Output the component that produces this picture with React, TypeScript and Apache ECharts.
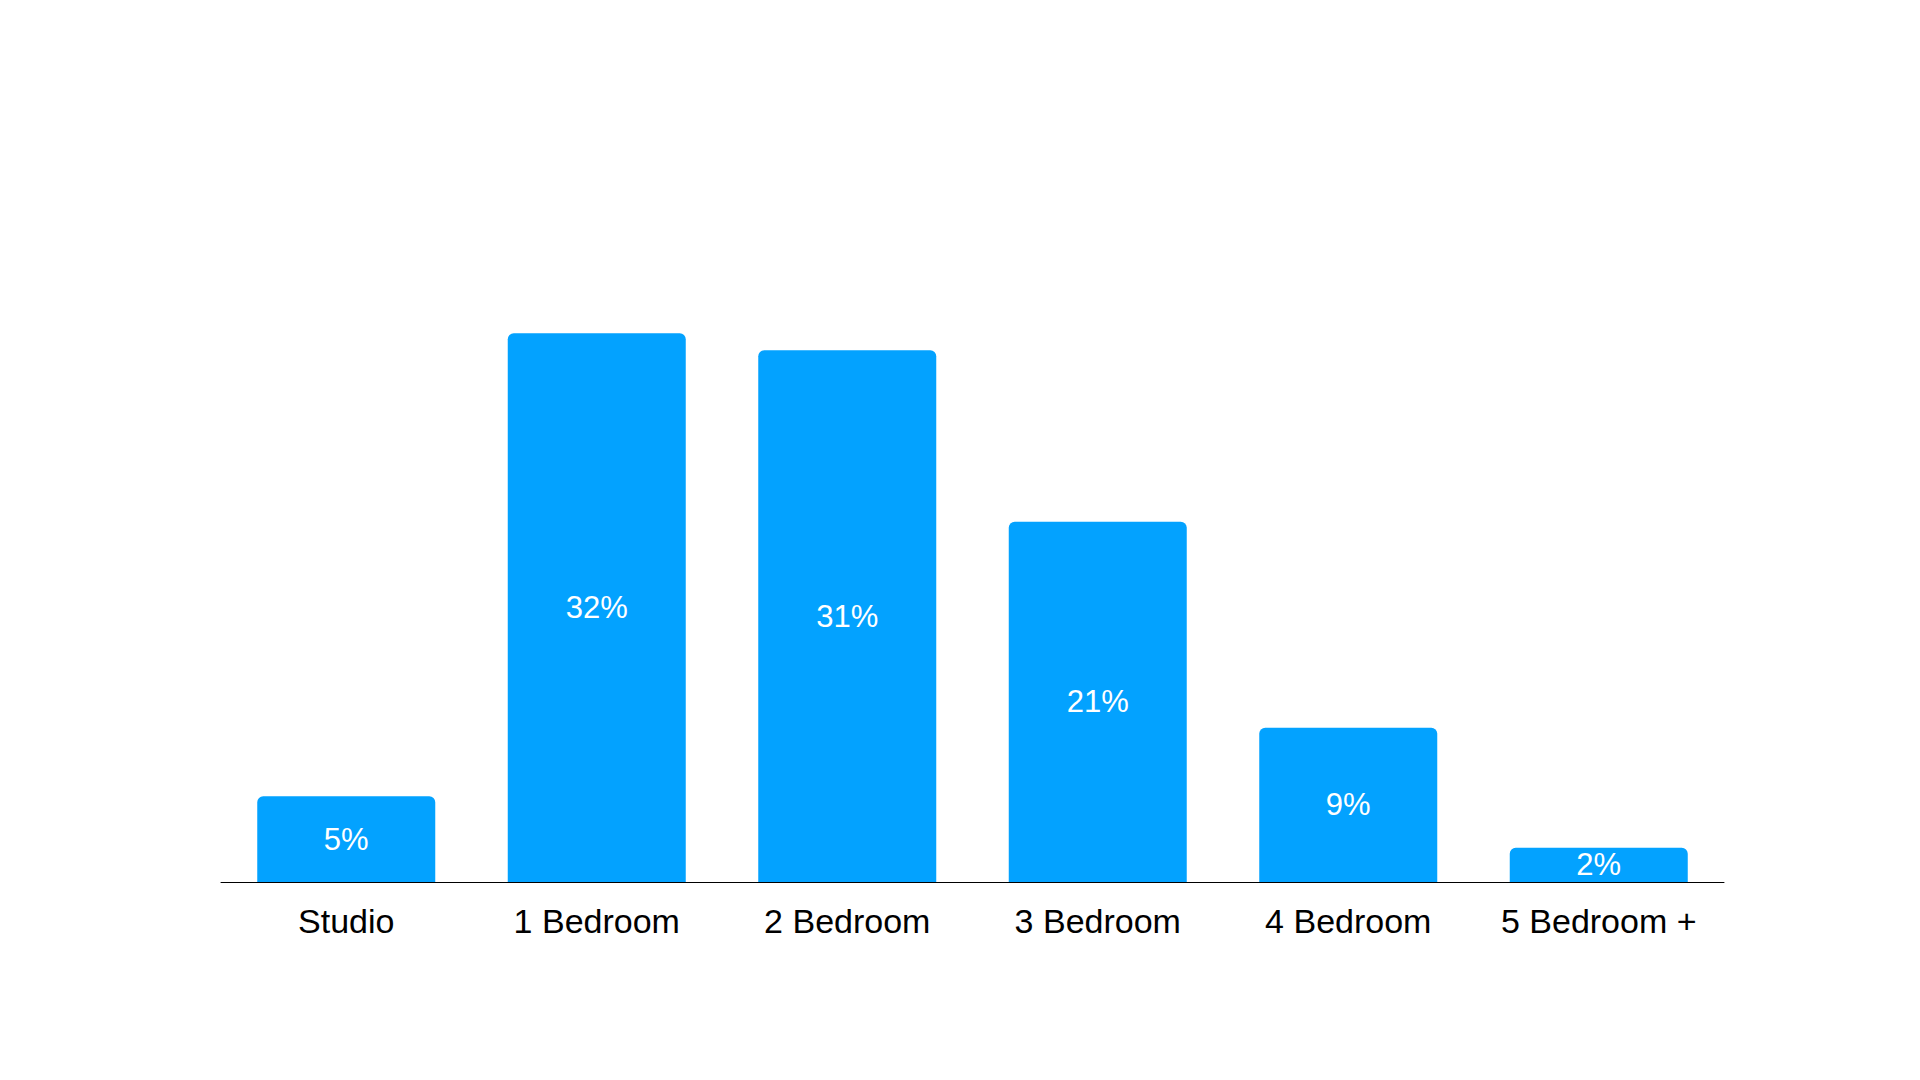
import React, { useEffect, useRef } from "react";
import * as echarts from "echarts";

const categories = ["Studio", "1 Bedroom", "2 Bedroom", "3 Bedroom", "4 Bedroom", "5 Bedroom +"];
const values = [5, 32, 31, 21, 9, 2];

export default function App() {
  const ref = useRef<HTMLDivElement>(null);
  useEffect(() => {
    if (!ref.current) return;
    const chart = echarts.init(ref.current, null, { renderer: "svg" });
    chart.setOption({
      animation: false,
      backgroundColor: "#ffffff",
      grid: { left: 221, right: 196, top: 196, bottom: 198, containLabel: false },
      xAxis: {
        type: "category",
        data: categories,
        axisLine: { show: true, lineStyle: { color: "#000000", width: 1 } },
        axisTick: { show: false },
        axisLabel: {
          interval: 0,
          hideOverlap: false,
          color: "#000000",
          fontFamily: "Liberation Sans, Arial, sans-serif",
          fontSize: 34,
          margin: 22,
        },
      },
      yAxis: {
        type: "value",
        min: 0,
        max: 40,
        show: false,
        splitLine: { show: false },
      },
      series: [
        {
          type: "bar",
          data: values,
          barWidth: 178,
          itemStyle: { color: "#03A2FF", borderRadius: [6, 6, 0, 0] },
          label: {
            show: true,
            position: "inside",
            formatter: "{c}%",
            color: "#ffffff",
            fontFamily: "Liberation Sans, Arial, sans-serif",
            fontSize: 31,
          },
        },
      ],
    });
    return () => chart.dispose();
  }, []);
  return <div ref={ref} style={{ width: 1920, height: 1080, position: "absolute", left: 0, top: 0 }} />;
}
